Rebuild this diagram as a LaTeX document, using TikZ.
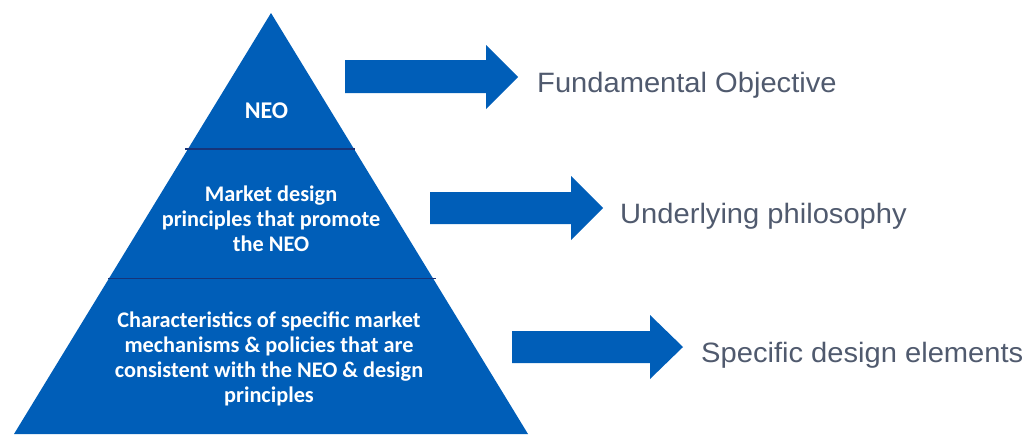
\documentclass[tikz,border=0pt]{standalone}
\usepackage{fontspec}
\setmainfont{Liberation Sans}
\newfontfamily\pyrfont{Carlito}
\newfontfamily\labelfont{Liberation Sans}[FakeStretch=1.04]
\definecolor{pblue}{RGB}{0,94,184}
\definecolor{pline}{RGB}{22,52,122}
\definecolor{ltext}{RGB}{80,90,110}
\tikzset{
  layer/.style={fill=pblue, draw=none},
  divider/.style={draw=pline, line width=1.6pt},
  blockarrow/.style={fill=pblue, draw=none},
  pyrtext/.style={text=white, inner sep=0pt, align=center,
    font=\pyrfont\bfseries\fontsize{22.3}{25.2}\selectfont},
  label/.style={text=ltext, inner sep=0pt, anchor=base west,
    font=\labelfont\fontsize{28}{32}\selectfont}
}
\begin{document}
\begin{tikzpicture}[x=1pt,y=-1pt]
\useasboundingbox (0,0) rectangle (1032,434);
% pyramid
\coordinate (apex) at (271,13);
\coordinate (bl) at (14,434);
\coordinate (br) at (528,434);
\path[layer] (apex) -- (br) -- (bl) -- cycle;
\coordinate (d1l) at (185,149);
\coordinate (d1r) at (355,149);
\coordinate (d2l) at (108,278.5);
\coordinate (d2r) at (436,278.5);
\draw[divider] (d1l) -- (d1r);
\draw[divider] (d2l) -- (d2r);
% pyramid texts
\node[pyrtext, font=\pyrfont\bfseries\fontsize{24}{26}\selectfont] (neo) at (266.5,110.5) {NEO};
\node[pyrtext] (mid) at (271,218.5) {Market design\\principles that promote\\the NEO};
\node[pyrtext] (low) at (269,359) {Characteristics of specific market\\mechanisms \& policies that are\\consistent with the NEO \& design\\principles};
% block arrows
\path[blockarrow] (345,60) -- (486,60) -- (486,45) -- (518,77) -- (486,109) -- (486,93) -- (345,93) -- cycle;
\path[blockarrow] (430,192) -- (571,192) -- (571,176) -- (603,208) -- (571,240) -- (571,224) -- (430,224) -- cycle;
\path[blockarrow] (512,331) -- (650,331) -- (650,315) -- (683,347) -- (650,379) -- (650,363) -- (512,363) -- cycle;
% labels
\node[label] (l1) at (537,92) {Fundamental Objective};
\node[label] (l2) at (620,223) {Underlying philosophy};
\node[label] (l3) at (701,362) {Specific design elements};
\end{tikzpicture}
\end{document}
